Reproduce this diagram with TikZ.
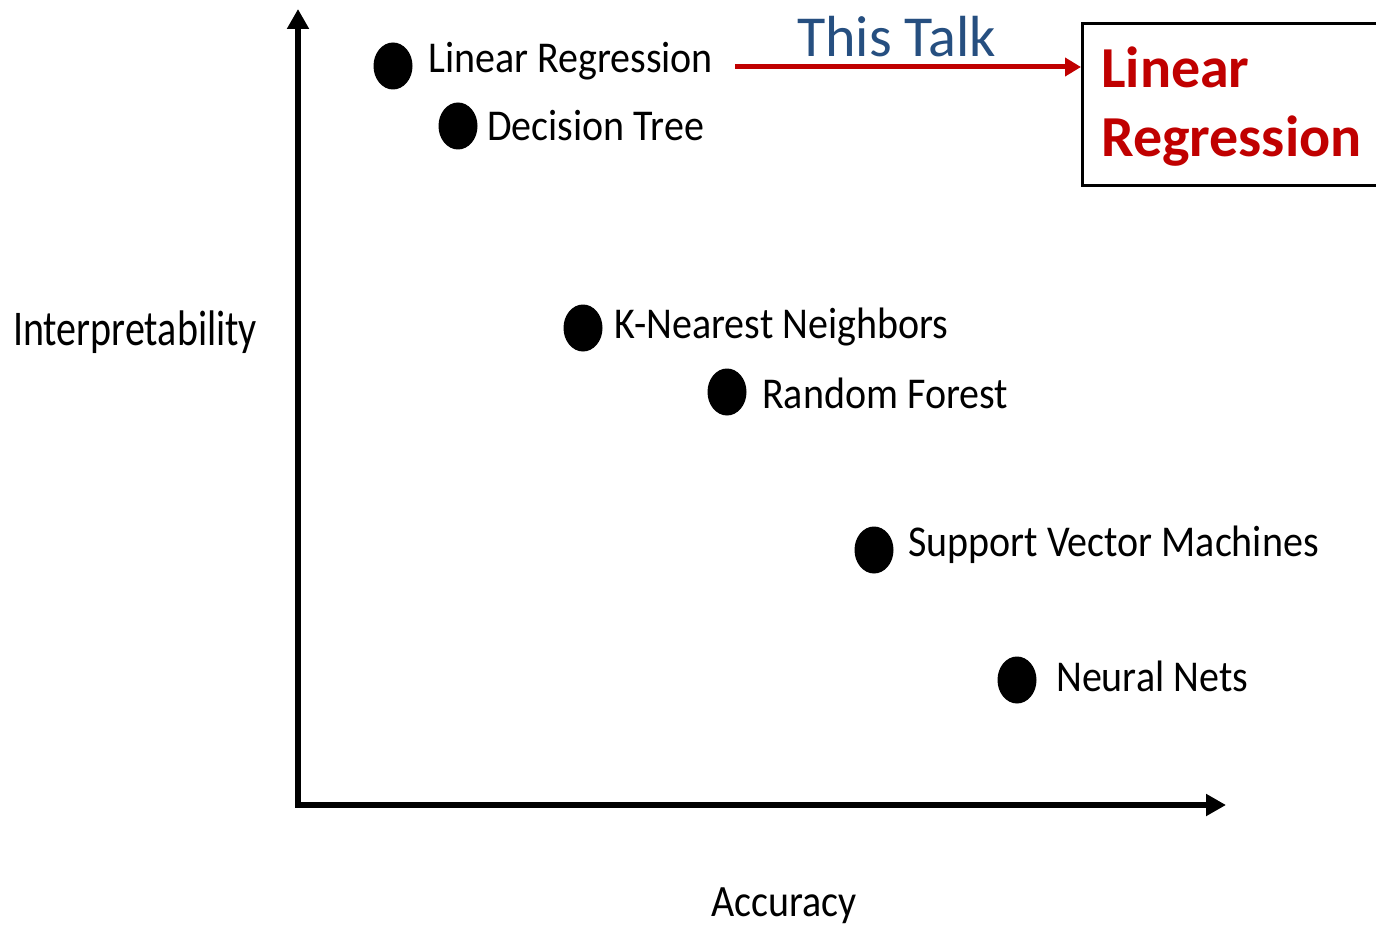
\documentclass[tikz,border=0pt]{standalone}
\usepackage{fontspec}
\usepackage{graphicx}
\setmainfont{Carlito}
\usetikzlibrary{arrows.meta,shapes.geometric}
\definecolor{talkblue}{RGB}{38,79,128}
\definecolor{darkred}{RGB}{192,0,0}
\tikzset{
  axis/.style={line width=6pt, line join=miter, -{Triangle[length=20pt,width=21pt]}},
  dot/.style={ellipse, fill=black, inner sep=0pt, minimum width=39pt, minimum height=47pt},
  lbl/.style={anchor=base west, inner sep=0pt, font=\fontsize{40}{48}\selectfont},
  redtxt/.style={anchor=base west, inner sep=0pt, text=darkred, font=\fontsize{58}{69}\selectfont\bfseries},
}
\begin{document}
\begin{tikzpicture}[x=1pt,y=-1pt]
\useasboundingbox (0,0) rectangle (1376,928);
\fill[white] (0,0) rectangle (1376,928);
% axes
\coordinate (ytip) at (298,9);
\coordinate (origin) at (298,805);
\coordinate (xtip) at (1226,805);
\draw[axis] (origin) -- (xtip);
\draw[axis] (origin) -- (ytip);
\draw[line width=6pt] (295,805) -- (302,805);
% axis labels
\node[lbl] (ylab) at (13,345) {\scalebox{1}[1.25]{Interpretability}};
\node[lbl] (xlab) at (711,916) {\scalebox{1}[1.12]{Accuracy}};
% points
\node[dot] (d1) at (393,66) {};
\node[lbl] (t1) at (428,73) {\scalebox{1}[1.1]{Linear Regression}};
\node[dot] (d2) at (458,126) {};
\node[lbl] (t2) at (487,141) {\scalebox{1}[1.1]{Decision Tree}};
\node[dot] (d3) at (583,328) {};
\node[lbl] (t3) at (614,338) {\scalebox{1}[1.1]{K-Nearest Neighbors}};
\node[dot] (d4) at (727,392) {};
\node[lbl] (t4) at (762,408) {\scalebox{1}[1.1]{Random Forest}};
\node[dot] (d5) at (874,550) {};
\node[lbl] (t5) at (908,556) {\scalebox{1}[1.1]{Support Vector Machines}};
\node[dot] (d6) at (1017,680) {};
\node[lbl] (t6) at (1056,691) {\scalebox{1}[1.1]{Neural Nets}};
% this talk
\node[draw, line width=3pt, anchor=north west, minimum width=300pt, minimum height=162pt, inner sep=0pt] (box) at (1081,22) {};
\node[redtxt] (r1) at (1101,88) {Linear};
\node[redtxt] (r2) at (1101,157) {Regression};
\coordinate (astart) at (735,67);
\draw[darkred, line width=5pt, -{Triangle[length=16pt,width=18pt]}] (astart) -- (astart -| box.west);
\node[anchor=base west, inner sep=0pt, text=talkblue, font=\fontsize{58}{68}\selectfont] (talk) at (797,57) {This Talk};
\end{tikzpicture}
\end{document}
